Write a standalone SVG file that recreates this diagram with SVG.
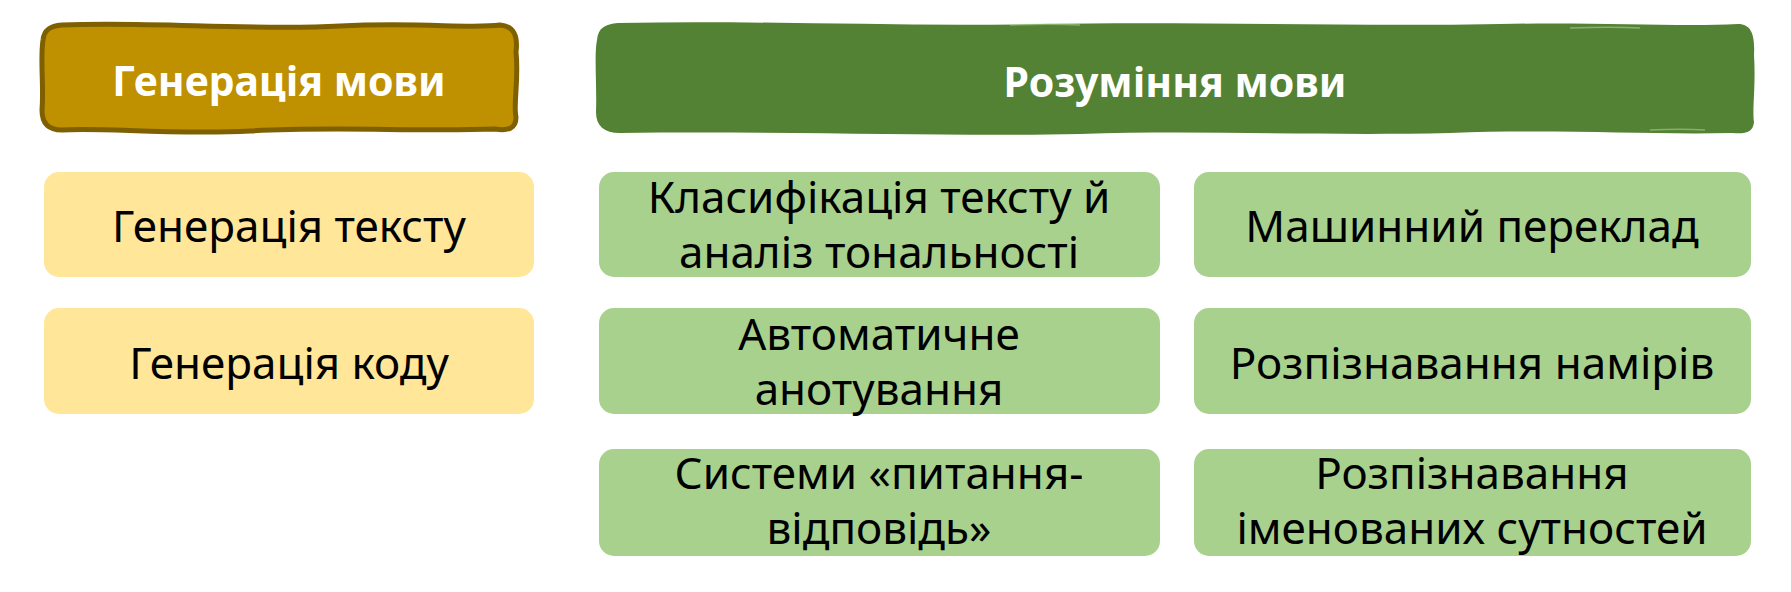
<svg xmlns="http://www.w3.org/2000/svg" width="1791" height="592" viewBox="0 0 1791 592">
<style>
.t{font-family:"Noto Sans","Open Sans","Liberation Sans",sans-serif;font-size:44px;fill:#000;text-anchor:middle}
.h{font-family:"Noto Sans","Open Sans","Liberation Sans",sans-serif;font-size:41px;font-weight:bold;fill:#fff;text-anchor:middle}
.y{fill:#FFE699}
.g{fill:#A9D18E}
</style>
<rect width="1791" height="592" fill="#fff"/>
<g id="header-generation">
<path d="M62,25 C150,21 250,31 340,26 C420,22 470,29 500,25 C514,26 518,36 516,52 C519,80 513,105 516,117 C516,129 508,131 495,129 C420,132 330,126 250,131 C170,135 100,127 62,130 C47,130 42,122 42,110 C44,85 40,60 43,40 C44,30 50,26 62,25 Z" fill="#BF9000" stroke="#7F6000" stroke-width="5" stroke-linejoin="round"/>
<text class="h" x="279" y="96">Генерація мови</text>
</g>
<g id="header-understanding">
<path d="M618,23 C760,20 900,27 1040,24 C1200,21 1350,27 1500,24 C1600,22 1680,27 1738,24 C1752,24 1755,36 1754,55 C1756,85 1752,110 1754,122 C1753,133 1745,134 1732,133 C1650,135 1560,129 1450,133 C1320,136 1200,130 1080,134 C950,137 800,131 620,133 C604,133 596,126 596,112 C597,85 594,55 597,40 C598,28 605,24 618,23 Z" fill="#548235"/>
<path d="M1010,25 C1040,24 1060,24 1080,25" stroke="#A9D18E" stroke-width="1.5" fill="none" opacity="0.6"/>
<path d="M1570,28 C1600,27 1620,27 1640,28" stroke="#A9D18E" stroke-width="1.5" fill="none" opacity="0.6"/>
<path d="M1650,130 C1670,129 1690,129 1705,130" stroke="#A9D18E" stroke-width="1.5" fill="none" opacity="0.6"/>
<text class="h" x="1175" y="97">Розуміння мови</text>
</g>
<g id="text-generation">
<rect class="y" x="44" y="172" width="490" height="105" rx="15"/>
<text class="t" x="289" y="242">Генерація тексту</text>
</g>
<g id="code-generation">
<rect class="y" x="44" y="308" width="490" height="106" rx="15"/>
<text class="t" x="289" y="379">Генерація коду</text>
</g>
<g id="classification">
<rect class="g" x="599" y="172" width="561" height="105" rx="15"/>
<text class="t" x="879" y="213">Класифікація тексту й</text>
<text class="t" x="879" y="268">аналіз тональності</text>
</g>
<g id="machine-translation">
<rect class="g" x="1194" y="172" width="557" height="105" rx="15"/>
<text class="t" x="1472" y="242">Машинний переклад</text>
</g>
<g id="auto-annotation">
<rect class="g" x="599" y="308" width="561" height="106" rx="15"/>
<text class="t" x="879" y="350">Автоматичне</text>
<text class="t" x="879" y="405">анотування</text>
</g>
<g id="intent-recognition">
<rect class="g" x="1194" y="308" width="557" height="106" rx="15"/>
<text class="t" x="1472" y="379">Розпізнавання намірів</text>
</g>
<g id="qa-systems">
<rect class="g" x="599" y="449" width="561" height="107" rx="15"/>
<text class="t" x="879" y="489">Системи «питання-</text>
<text class="t" x="879" y="544">відповідь»</text>
</g>
<g id="ner">
<rect class="g" x="1194" y="449" width="557" height="107" rx="15"/>
<text class="t" x="1472" y="489">Розпізнавання</text>
<text class="t" x="1472" y="544">іменованих сутностей</text>
</g>
<g id="connectors"/>
</svg>
